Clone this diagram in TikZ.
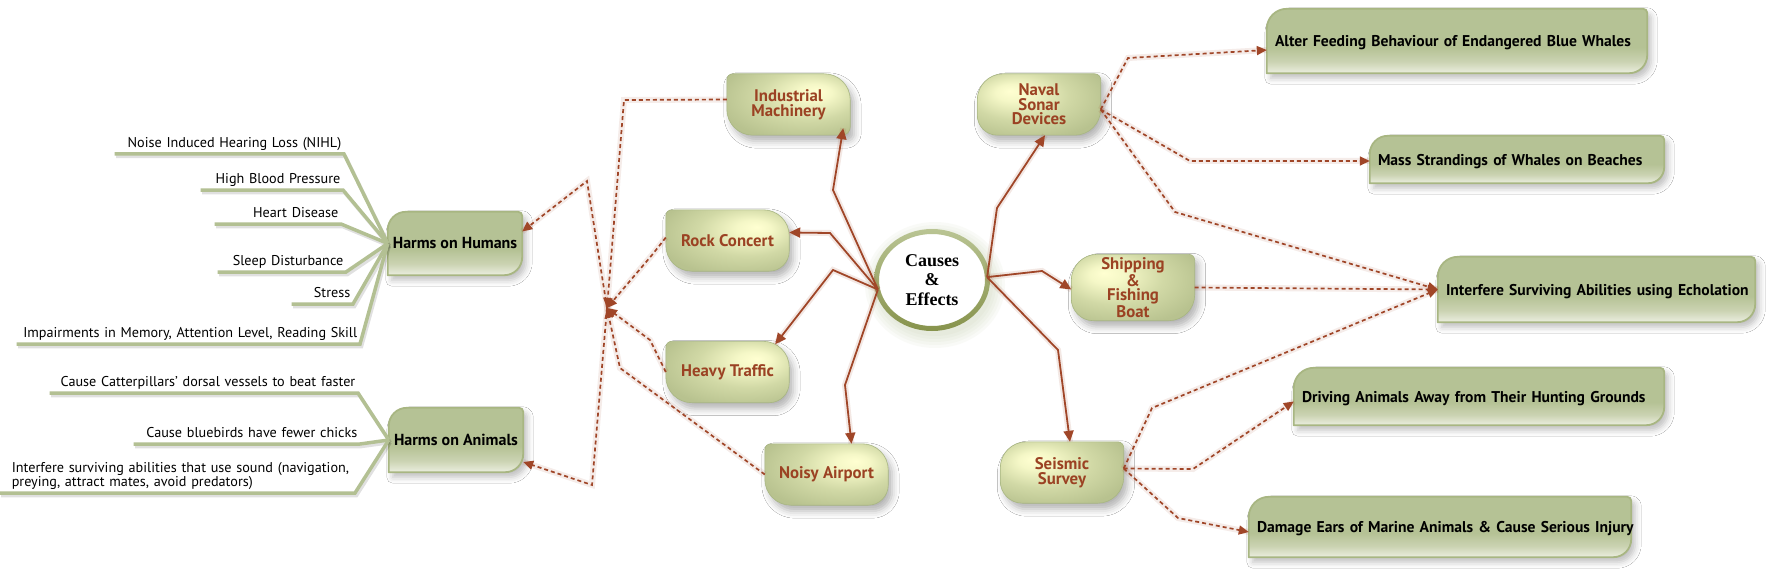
\documentclass[tikz,border=0pt]{standalone}
\usepackage{fontspec}
\setmainfont{PT Sans}
\newfontfamily\cserif{Liberation Serif}
\usetikzlibrary{arrows.meta,shapes.geometric,shadows,shadows.blur,backgrounds}

\definecolor{olv}{HTML}{B5C295}
\definecolor{olvmid}{HTML}{CBD3B2}
\definecolor{olvlight}{HTML}{EBEEE0}
\definecolor{olvborder}{HTML}{A8B682}
\definecolor{brn}{HTML}{A04628}
\definecolor{ctext}{HTML}{9B4223}
\definecolor{gline}{HTML}{B3C093}
\definecolor{ringtop}{HTML}{B9C493}
\definecolor{ringmid}{HTML}{F2F4C6}
\definecolor{ringbot}{HTML}{87934C}

\pgfdeclareradialshading{spotTR}{\pgfpoint{12bp}{11bp}}{rgb(0bp)=(1,1,0.82);rgb(7bp)=(0.96,0.97,0.78);rgb(20bp)=(0.82,0.85,0.65);rgb(34bp)=(0.72,0.76,0.56);rgb(60bp)=(0.71,0.75,0.55)}
\pgfdeclareradialshading{spotTL}{\pgfpoint{-12bp}{11bp}}{rgb(0bp)=(1,1,0.82);rgb(7bp)=(0.96,0.97,0.78);rgb(20bp)=(0.82,0.85,0.65);rgb(34bp)=(0.72,0.76,0.56);rgb(60bp)=(0.71,0.75,0.55)}
\pgfdeclareverticalshading{effshade}{100bp}{color(0bp)=(olvlight); color(25bp)=(olvlight); color(34bp)=(olvmid); color(45bp)=(olv); color(100bp)=(olv)}

% name, tl, tr, br, bl, options
\newcommand\bshape[6]{%
\path[#6] ([xshift=#2]#1.north west) -- ([xshift=-#3]#1.north east)
 arc[start angle=90,end angle=0,radius=#3]
 -- ([yshift=#4]#1.south east)
 arc[start angle=0,end angle=-90,radius=#4]
 -- ([xshift=#5]#1.south west)
 arc[start angle=270,end angle=180,radius=#5]
 -- ([yshift=-#2]#1.north west)
 arc[start angle=180,end angle=90,radius=#2] -- cycle;}

\tikzset{
 causebox/.style={minimum width=123pt, minimum height=61pt, inner sep=0pt, align=center,
   font=\fontsize{16.8}{14.5}\selectfont\bfseries, text=ctext},
 harmbox/.style={inner sep=0pt, align=center, font=\fontsize{16}{18}\selectfont\bfseries, text=black},
 effbox/.style={inner xsep=8pt, inner ysep=0pt, align=left, text depth=0pt,
   font=\fontsize{15.6}{17}\selectfont\bfseries, text=black},
 itemnode/.style={anchor=south east, inner xsep=2.5pt, inner ysep=3pt, align=right, text depth=3.5pt,
   font=\fontsize{14.2}{13}\selectfont},
 lshade/.style={shade, shading=spotTR, draw=olvborder, line width=0.6pt,
   blur shadow={shadow xshift=4pt, shadow yshift=-6pt, shadow blur radius=7pt, shadow opacity=30}},
 rshade/.style={shade, shading=spotTL, draw=olvborder, line width=0.6pt,
   blur shadow={shadow xshift=4pt, shadow yshift=-6pt, shadow blur radius=7pt, shadow opacity=30}},
 eshade/.style={shade, shading=effshade, draw=olvborder, line width=1.8pt,
   blur shadow={shadow xshift=4pt, shadow yshift=-5pt, shadow blur radius=6pt, shadow opacity=25}},
 solconn/.style={draw=brn, line width=1.8pt, -{Triangle[length=11pt,width=10pt]},
   preaction={draw=brn, opacity=0.12, line width=6pt, arrows=-}},
 dotconn/.style={draw=brn, line width=1.7pt, dash pattern=on 4pt off 3pt, -{Triangle[length=10pt,width=9pt]},
   preaction={draw=brn, opacity=0.10, line width=6pt, solid, arrows=-}},
 gl/.style={draw=gline, line width=3.5pt,
   preaction={draw=black, opacity=0.12, line width=3.5pt, transform canvas={shift={(1.5pt,-2.5pt)}}}},
}

\begin{document}
\begin{tikzpicture}[x=1pt,y=1pt]
\useasboundingbox (0,0) rectangle (1778,-575);

% ---------- nodes ----------
\node[ellipse, minimum width=110pt, minimum height=96pt, fill=white, inner sep=0pt, align=center,
  font=\cserif\bfseries\fontsize{18}{19.5}\selectfont] (cen) at (932,-280) {Causes\\\&\\Effects};

\node[causebox] (ind) at (788.5,-104.5) {Industrial\\Machinery};
\node[causebox] (rock) at (727.5,-240.5) {Rock Concert};
\node[causebox] (heavy) at (727.5,-372) {Heavy Traffic};
\node[causebox] (noisy) at (826.5,-474.5) {Noisy Airport};
\node[causebox] (naval) at (1039,-104.5) {Naval\\Sonar\\Devices};
\node[causebox, minimum height=66pt] (ship) at (1133,-287.5) {Shipping\\\&\\Fishing\\Boat};
\node[causebox] (seis) at (1062,-472.5) {Seismic\\Survey};

\node[harmbox, minimum width=134pt, minimum height=63pt] (hum) at (455,-243.5) {Harms on Humans};
\node[harmbox, minimum width=134pt, minimum height=64pt] (anim) at (456,-440) {Harms on Animals};

\node[effbox, text width=364pt, minimum height=64pt] (alter) at (1457,-41) {\mbox{Alter Feeding Behaviour of Endangered Blue Whales}};
\node[effbox, text width=278pt, minimum height=47pt] (mass) at (1517,-159.5) {\mbox{Mass Strandings of Whales on Beaches}};
\node[effbox, text width=301pt, minimum height=65pt] (inter) at (1596.5,-289.5) {\mbox{Interfere Surviving Abilities using Echolation}};
\node[effbox, text width=354pt, minimum height=57pt] (drive) at (1479,-396.5) {\mbox{Driving Animals Away from Their Hunting Grounds}};
\node[effbox, text width=366pt, minimum height=60pt] (dmg) at (1440,-527) {\mbox{Damage Ears of Marine Animals \& Cause Serious Injury}};

% items (humans)
\node[itemnode, text width=224pt] (h1) at (344,-154) {\mbox{Noise Induced Hearing Loss (NIHL)}};
\node[itemnode, text width=137pt] (h2) at (343,-190) {\mbox{High Blood Pressure}};
\node[itemnode, text width=121pt] (h3) at (341,-224) {\mbox{Heart Disease}};
\node[itemnode, text width=123pt] (h4) at (346,-272) {\mbox{Sleep Disturbance}};
\node[itemnode, text width=56pt] (h5) at (353,-304) {\mbox{Stress}};
\node[itemnode, text width=338pt] (h6) at (360,-344) {\mbox{Impairments in Memory, Attention Level, Reading Skill}};
% items (animals)
\node[itemnode, text width=303pt] (a1) at (358,-393) {\mbox{Cause Catterpillars' dorsal vessels to beat faster}};
\node[itemnode, text width=221pt] (a2) at (360,-444) {\mbox{Cause bluebirds have fewer chicks}};
\node[anchor=south east, inner xsep=0pt, inner ysep=3pt, text width=343pt, align=left,
  font=\fontsize{14.2}{12.5}\selectfont] (a3) at (355,-493) {Interfere surviving abilities that use sound (navigation,\\preying, attract mates, avoid predators)};

\coordinate (conv) at (607,-308);

% ---------- background shapes ----------
\begin{pgfonlayer}{background}
\fill[white] (0,0) rectangle (1778,-575);
% glow of centre
\foreach \r in {0,3,6,9,12}{
  \fill[olv, opacity=0.07] ([shift={(3pt,-5pt)}]cen.center) ellipse [x radius=58pt+\r pt, y radius=51pt+\r pt];
}
\bshape{ind}{6pt}{26pt}{8pt}{26pt}{lshade}
\bshape{rock}{6pt}{26pt}{20pt}{26pt}{lshade}
\bshape{heavy}{6pt}{26pt}{20pt}{26pt}{lshade}
\bshape{noisy}{6pt}{26pt}{20pt}{26pt}{lshade}
\bshape{naval}{26pt}{6pt}{26pt}{20pt}{rshade}
\bshape{ship}{26pt}{6pt}{26pt}{22pt}{rshade}
\bshape{seis}{26pt}{6pt}{26pt}{22pt}{rshade}
\bshape{hum}{18pt}{4pt}{18pt}{0.01pt}{eshade}
\bshape{anim}{18pt}{4pt}{18pt}{0.01pt}{eshade}
\bshape{alter}{20pt}{4pt}{18pt}{0.01pt}{eshade}
\bshape{mass}{18pt}{4pt}{16pt}{0.01pt}{eshade}
\bshape{inter}{20pt}{4pt}{18pt}{0.01pt}{eshade}
\bshape{drive}{20pt}{4pt}{18pt}{0.01pt}{eshade}
\bshape{dmg}{20pt}{4pt}{18pt}{0.01pt}{eshade}
\end{pgfonlayer}

% centre ring
\shade[even odd rule, top color=ringtop, middle color=ringmid, bottom color=ringbot]
  (cen.center) ellipse [x radius=58pt, y radius=51pt]
  (cen.center) ellipse [x radius=53pt, y radius=46pt];

% ---------- green item lines ----------
\draw[gl] (hum.west) -- (h1.south east) -- (h1.south west);
\draw[gl] (hum.west) -- (h2.south east) -- (h2.south west);
\draw[gl] (hum.west) -- (h3.south east) -- (h3.south west);
\draw[gl] (hum.west) -- (h4.south east) -- (h4.south west);
\draw[gl] (hum.west) -- (h5.south east) -- (h5.south west);
\draw[gl] (hum.west) -- (h6.south east) -- (h6.south west);
\draw[gl] (anim.west) -- (a1.south east) -- (a1.south west);
\draw[gl] (anim.west) -- (a2.south east) -- (a2.south west);
\draw[gl] (anim.west) -- (a3.south east) -- ([xshift=-12pt]a3.south west);

% ---------- solid connectors ----------
\draw[solconn] (cen.190) -- (833,-190) -- ([shift={(-7pt,7pt)}]ind.south east);
\draw[solconn] (cen.190) -- (830,-233) -- ([yshift=8pt]rock.east);
\draw[solconn] (cen.190) -- (833,-270) -- ([shift={(-14pt,-3pt)}]heavy.north east);
\draw[solconn] (cen.190) -- (845,-385) -- ([xshift=25pt]noisy.north);
\draw[solconn] (cen.3) -- (997,-208) -- ([xshift=6pt]naval.south);
\draw[solconn] (cen.3) -- (1042,-271) -- ([yshift=-2pt]ship.west);
\draw[solconn] (cen.3) -- (1058,-350) -- ([xshift=8pt]seis.north);

% ---------- dotted connectors ----------
\draw[dotconn] ([yshift=-5pt]naval.east) -- (1128,-58) -- ([yshift=-9pt]alter.west);
\draw[dotconn] ([yshift=-5pt]naval.east) -- (1190,-161) -- ([yshift=-1.5pt]mass.west);
\draw[dotconn] ([yshift=-5pt]naval.east) -- (1175,-212) -- (inter.west);
\draw[dotconn] (ship.east) -- (inter.west);
\draw[dotconn] ([yshift=4pt]seis.east) -- (1152,-408) -- (inter.west);
\draw[dotconn] ([yshift=4pt]seis.east) -- (1193,-469) -- ([yshift=-5pt]drive.west);
\draw[dotconn] ([yshift=4pt]seis.east) -- (1178,-518) -- ([yshift=-5pt]dmg.west);

\draw[dotconn] ([yshift=5pt]ind.west) -- (624,-100) -- (conv);
\draw[dotconn] ([yshift=3pt]rock.west) -- (652,-255) -- (conv);
\draw[dotconn] (heavy.west) -- (650,-340) -- (conv);
\draw[dotconn] (noisy.west) -- (620,-368) -- (conv);
\draw[dotconn] (conv) -- (587,-181) -- ([yshift=12pt]hum.east);
\draw[dotconn] (conv) -- (592,-485) -- ([yshift=-22pt]anim.east);
\end{tikzpicture}
\end{document}
